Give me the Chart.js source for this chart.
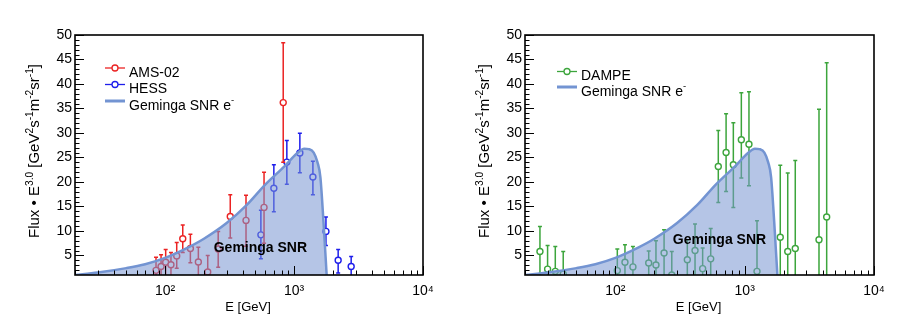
<!DOCTYPE html>
<html>
<head>
<meta charset="utf-8">
<script src="https://cdn.jsdelivr.net/npm/chart.js@4.4.0/dist/chart.umd.min.js"></script>
<style>
  html, body { margin: 0; padding: 0; background: #fff; }
  #wrap { position: relative; width: 904px; height: 327px; }
  .panel { position: absolute; top: 0; width: 452px; height: 327px; }
</style>
</head>
<body>
<div id="wrap">
  <div class="panel" style="left:0"><canvas id="left" width="452" height="327"></canvas></div>
  <div class="panel" style="left:452px"><canvas id="right" width="452" height="327"></canvas></div>
</div>
<script>
// axis ranges / ticks
const X_MIN = 20, X_MAX = 10000;
const Y_MIN = 1, Y_MAX = 50;
const X_TICKS = [100, 1000, 10000];
const X_TICK_LABELS = ['10²', '10³', '10⁴'];
const Y_TICKS = [5, 10, 15, 20, 25, 30, 35, 40, 45, 50];

// Geminga SNR e- model curve
const SNR_E = [20, 30, 50, 70, 100, 150, 200, 300, 430, 600, 850, 1050, 1200, 1300, 1420, 1520, 1600, 1690, 1790];
const SNR_FLUX = [1.0, 1.5, 2.4, 3.2, 4.5, 6.6, 8.4, 11.6, 15.3, 19.5, 23.3, 25.8, 26.8, 26.7, 26.0, 24.0, 21.0, 12.0, 1.0];

// AMS-02
const AMS_E = [85, 93, 101, 111, 123, 137, 157, 181, 214, 258, 320, 424, 585, 824];
const AMS_FLUX = [1.95, 2.75, 3.6, 3.1, 4.9, 8.4, 6.4, 3.65, 1.6, 6.3, 12.95, 12.15, 14.8, 36.2];
const AMS_LO = [1, 1, 1, 1, 2.4, 5.6, 3.5, 1, 1, 2.6, 8.55, 6.85, 7.5, 24.0];
const AMS_HI = [4.6, 5.15, 6.2, 5.6, 7.65, 11.2, 9.3, 6.65, 5.0, 9.9, 17.4, 17.3, 22.0, 48.4];

// HESS
const HESS_E = [553, 697, 879, 1109, 1400, 1767, 2198, 2773];
const HESS_FLUX = [9.2, 18.7, 24.05, 25.9, 21.0, 9.9, 4.0, 2.75];
const HESS_LO = [4.3, 13.9, 19.55, 21.9, 17.4, 7.0, 1.4, 1];
const HESS_HI = [14.2, 23.5, 28.45, 29.95, 24.2, 12.85, 6.2, 4.8];

// DAMPE
const DAMPE_E = [26.1, 29.9, 34.3, 39.5, 103.5, 118.6, 136.7, 181, 206, 238, 273, 360, 413, 473, 546,
                 625, 718, 817, 942, 1079, 1245, 1884, 2152, 2461, 3755, 4306];
const DAMPE_FLUX = [5.8, 2.2, 1.75, 1.2, 1.9, 3.6, 2.65, 3.45, 3.05, 5.5, 1.0, 4.1, 6.0, 2.3, 4.3,
                    23.15, 26.0, 23.5, 28.6, 27.7, 1.75, 8.7, 5.8, 6.4, 8.2, 12.85];
const DAMPE_LO = [1, 1, 1, 1, 1, 1, 1, 1, 1, 1, 1, 1, 1, 1, 1,
                  15.8, 18.05, 14.8, 20.8, 19.2, 1, 1, 1, 1, 1, 1];
const DAMPE_HI = [10.9, 7.0, 6.8, 5.8, 6.3, 7.2, 6.8, 5.9, 8.0, 10.25, 5.8, 8.2, 11.4, 6.5, 10.5,
                  30.5, 33.9, 32.1, 38.2, 38.4, 12.1, 23.4, 21.8, 24.4, 34.85, 44.35];

const FONT = '"Liberation Sans", Arial, Helvetica, sans-serif';
const RED = 'rgb(235,35,35)', BLUE = 'rgb(30,30,235)', GREEN = 'rgb(60,165,60)';
const SNR_LINE = 'rgb(115,148,210)', SNR_FILL = 'rgba(120,150,210,0.55)';

const pts = (xs, ys) => xs.map((x, i) => ({ x: x, y: ys[i] }));

// text with superscripts: segments starting with ^ are raised
const SUP = 0.68;
function richWidth(ctx, segs, size) {
  let w = 0;
  segs.forEach(s => {
    const sup = s[0] === '^';
    ctx.font = (sup ? size * SUP : size) + 'px ' + FONT;
    w += ctx.measureText(sup ? s.slice(1) : s).width;
  });
  return w;
}
function drawRich(ctx, segs, x, y, size) {
  segs.forEach(s => {
    const sup = s[0] === '^';
    const t = sup ? s.slice(1) : s;
    ctx.font = (sup ? size * SUP : size) + 'px ' + FONT;
    ctx.fillText(t, x, sup ? y - size * 0.42 : y);
    x += ctx.measureText(t).width;
  });
}

const rootStyle = {
  id: 'rootStyle',
  beforeDatasetDraw(chart, args) {
    const ds = chart.data.datasets[args.index];
    if (!ds.errLo) return;
    const ctx = chart.ctx, xs = chart.scales.x, ys = chart.scales.y, a = chart.chartArea;
    ctx.save();
    ctx.beginPath();
    ctx.rect(a.left, a.top, a.right - a.left, a.bottom - a.top);
    ctx.clip();
    ctx.strokeStyle = ds.borderColor;
    ctx.lineWidth = 1.5;
    ds.data.forEach((p, i) => {
      const px = xs.getPixelForValue(p.x);
      const lo = ys.getPixelForValue(ds.errLo[i]);
      const hi = ys.getPixelForValue(ds.errHi[i]);
      ctx.beginPath();
      ctx.moveTo(px, lo); ctx.lineTo(px, hi);
      ctx.moveTo(px - 2, hi); ctx.lineTo(px + 2, hi);
      if (ds.errLo[i] > Y_MIN) { ctx.moveTo(px - 2, lo); ctx.lineTo(px + 2, lo); }
      ctx.stroke();
    });
    ctx.restore();
  },
  afterDatasetsDraw(chart, args, opts) {
    const ctx = chart.ctx, xs = chart.scales.x, ys = chart.scales.y, a = chart.chartArea;
    ctx.save();
    // tick marks inside the frame
    ctx.strokeStyle = '#000';
    ctx.lineWidth = 1;
    ctx.beginPath();
    for (let d = 10; d < X_MAX; d *= 10) {
      for (let k = 1; k <= 10; k++) {
        const v = k * d;
        if (v < X_MIN || v > X_MAX) continue;
        const len = (k === 1 || k === 10) ? 9 : 4.5;
        const px = Math.round(xs.getPixelForValue(v)) + 0.5;
        ctx.moveTo(px, a.bottom); ctx.lineTo(px, a.bottom - len);
      }
    }
    for (let v = Y_MIN + 1; v <= Y_MAX; v++) {
      const len = v % 5 === 0 ? 9 : 4.5;
      const py = Math.round(ys.getPixelForValue(v)) + 0.5;
      ctx.moveTo(a.left, py); ctx.lineTo(a.left + len, py);
    }
    ctx.stroke();
    ctx.lineWidth = 1.6;
    ctx.strokeRect(a.left, a.top, a.right - a.left, a.bottom - a.top);

    // region label
    ctx.fillStyle = '#000';
    ctx.font = 'bold 14px ' + FONT;
    ctx.textAlign = 'center';
    ctx.textBaseline = 'middle';
    ctx.fillText('Geminga SNR', xs.getPixelForValue(opts.note[0]), ys.getPixelForValue(opts.note[1]));

    // legend
    ctx.textAlign = 'left';
    ctx.textBaseline = 'middle';
    opts.legend.forEach((it, i) => {
      const y = opts.legendY + i * opts.legendDy;
      ctx.strokeStyle = it.color;
      ctx.lineWidth = it.marker ? 1.3 : 3;
      ctx.beginPath();
      ctx.moveTo(105, y); ctx.lineTo(125, y);
      ctx.stroke();
      if (it.marker) {
        ctx.beginPath();
        ctx.arc(115, y, 3, 0, Math.PI * 2);
        ctx.fillStyle = '#fff';
        ctx.fill();
        ctx.stroke();
      }
      ctx.fillStyle = '#000';
      drawRich(ctx, it.text, 129, y + 5, 14);
    });

    // axis titles
    ctx.textBaseline = 'alphabetic';
    ctx.font = '13px ' + FONT;
    ctx.textAlign = 'center';
    ctx.fillText('E [GeV]', (a.left + a.right) / 2 - 1, 311);
    const title = ['Flux • E', '^3.0', ' [GeV', '^2', 's', '^-1', 'm', '^-2', 'sr', '^-1', ']'];
    ctx.textAlign = 'left';
    const w = richWidth(ctx, title, 15);
    ctx.translate(opts.titleX, 151);
    ctx.rotate(-Math.PI / 2);
    drawRich(ctx, title, -w / 2, 0, 15);
    ctx.restore();
  }
};

function makeChart(id, pointSets, pluginOpts, padRight) {
  const datasets = [{
    label: 'Geminga SNR e-',
    data: pts(SNR_E, SNR_FLUX),
    borderColor: SNR_LINE,
    backgroundColor: SNR_FILL,
    borderWidth: 2.5,
    fill: 'start',
    pointRadius: 0,
    cubicInterpolationMode: 'monotone'
  }].concat(pointSets.map(s => ({
    label: s.label,
    data: pts(s.e, s.v),
    errLo: s.lo,
    errHi: s.hi,
    showLine: false,
    borderColor: s.color,
    pointBackgroundColor: '#fff',
    pointBorderColor: s.color,
    pointBorderWidth: 1.4,
    pointRadius: 3
  })));

  return new Chart(document.getElementById(id), {
    type: 'line',
    data: { datasets: datasets },
    options: {
      responsive: false,
      animation: false,
      layout: { padding: { left: 0, top: 35, right: padRight, bottom: 0 } },
      plugins: {
        legend: { display: false },
        tooltip: { enabled: false },
        rootStyle: pluginOpts
      },
      scales: {
        x: {
          type: 'logarithmic',
          min: X_MIN, max: X_MAX,
          grid: { display: false, drawTicks: false },
          border: { display: false },
          afterBuildTicks: s => { s.ticks = X_TICKS.map(v => ({ value: v })); },
          afterFit: s => { s.height = 52; },
          ticks: {
            autoSkip: false, maxRotation: 0, padding: 8,
            color: '#000', font: { family: FONT, size: 14 },
            callback: (v) => X_TICK_LABELS[X_TICKS.indexOf(v)]
          }
        },
        y: {
          min: Y_MIN, max: Y_MAX,
          grid: { display: false, drawTicks: false },
          border: { display: false },
          afterBuildTicks: s => { s.ticks = Y_TICKS.map(v => ({ value: v })); },
          afterFit: s => { s.width = pluginOpts.axisLeft; },
          ticks: {
            padding: 3,
            color: '#000', font: { family: FONT, size: 14 },
            callback: (v) => String(v)
          }
        }
      }
    },
    plugins: [rootStyle]
  });
}

makeChart('left', [
  { label: 'AMS-02', e: AMS_E, v: AMS_FLUX, lo: AMS_LO, hi: AMS_HI, color: RED },
  { label: 'HESS', e: HESS_E, v: HESS_FLUX, lo: HESS_LO, hi: HESS_HI, color: BLUE }
], {
  axisLeft: 75, titleX: 39,
  note: [548, 6.4],
  legendY: 68, legendDy: 16.5,
  legend: [
    { text: ['AMS-02'], color: RED, marker: true },
    { text: ['HESS'], color: BLUE, marker: true },
    { text: ['Geminga SNR e', '^-'], color: SNR_LINE, marker: false }
  ]
}, 29);

makeChart('right', [
  { label: 'DAMPE', e: DAMPE_E, v: DAMPE_FLUX, lo: DAMPE_LO, hi: DAMPE_HI, color: GREEN }
], {
  axisLeft: 73, titleX: 37,
  note: [638, 8.2],
  legendY: 71.5, legendDy: 15.5,
  legend: [
    { text: ['DAMPE'], color: GREEN, marker: true },
    { text: ['Geminga SNR e', '^-'], color: SNR_LINE, marker: false }
  ]
}, 30);
</script>
</body>
</html>
